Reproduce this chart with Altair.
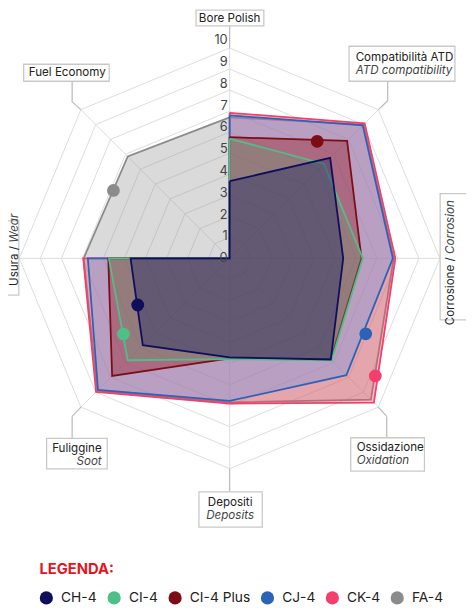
import math
import altair as alt
import pandas as pd

# ---------------- data ----------------
categories = ["Bore Polish", "Compatibilità ATD", "Corrosione", "Ossidazione",
              "Depositi", "Fuliggine", "Usura", "Fuel Economy"]
categories_en = ["", "ATD compatibility", "Corrosion", "Oxidation",
                 "Deposits", "Soot", "Wear", ""]
series = ["CH-4", "CI-4", "CI-4 Plus", "CJ-4", "CK-4", "FA-4"]

ch4 = [3.67, 6.76, 5.40, 6.80, 4.71, 5.84, 4.71, 0.0]
ci4 = [5.69, 6.35, 6.33, 6.85, 4.79, 6.85, 5.74, 0.0]
ci4_plus = [5.76, 7.90, 6.27, 6.80, 4.76, 7.90, 5.77, 0.0]
cj4 = [6.80, 8.95, 7.76, 7.85, 6.78, 8.85, 6.74, 0.0]
ck4 = [6.92, 9.08, 7.88, 9.70, 6.90, 8.98, 6.96, 0.0]
fa4 = [6.70, 9.00, 7.80, 9.50, 6.85, 8.90, 6.94, 6.85]
series_values = [ch4, ci4, ci4_plus, cj4, ck4, fa4]

marker_angle = [243.1, 234.5, 36.8, 119.0, 128.9, 300.3]
marker_value = [4.9, 6.2, 6.95, 7.4, 8.9, 6.4]

ticks = list(range(0, 11))

# ---------------- styles ----------------
colors = ["#0e0e5c", "#4fbf88", "#7c0d14", "#2d63b6", "#f23f6c", "#8b8b8b"]
fill_colors = ["#081965", "#689a72", "#96050a", "#6997ee", "#f5435a", "#959595"]
FILL_OPACITY = 0.35

PX = 21.4
CX, CY = 225.5, 249.5
N = len(categories)
FONT = "Inter"
GRID = "#dcdcdc"


def polar_k(v, k):
    a = math.radians(360.0 * k / N)
    return v * math.sin(a), v * math.cos(a)


def polar_deg(v, deg):
    a = math.radians(deg)
    return v * math.sin(a), v * math.cos(a)


xs = alt.Scale(domain=[-10, 10], range=[CX - 10 * PX, CX + 10 * PX])
ys = alt.Scale(domain=[-10, 10], range=[CY + 10 * PX, CY - 10 * PX])


def XY(xf="x", yf="y"):
    return dict(x=alt.X(f"{xf}:Q", scale=xs, axis=None),
                y=alt.Y(f"{yf}:Q", scale=ys, axis=None))


layers = []

# grid rings
ring_rows = []
for lev in range(1, 11):
    for k in range(N + 1):
        x, y = polar_k(lev, k % N)
        ring_rows.append(dict(level=lev, k=k, x=x, y=y))
layers.append(alt.Chart(pd.DataFrame(ring_rows)).mark_line(
    stroke=GRID, strokeWidth=1).encode(**XY(), detail="level:N", order="k:Q"))

# spokes
spoke_rows = []
for k in range(N):
    x2, y2 = polar_k(10, k)
    spoke_rows.append(dict(x=0.0, y=0.0, x2=x2, y2=y2))
layers.append(alt.Chart(pd.DataFrame(spoke_rows)).mark_rule(
    stroke=GRID, strokeWidth=1).encode(**XY(), x2="x2:Q", y2="y2:Q"))

# polygons (bottom to top: FA-4 ... CH-4)
for i in reversed(range(len(series))):
    rows = []
    for k in range(N + 1):
        x, y = polar_k(series_values[i][k % N], k % N)
        rows.append(dict(series=series[i], k=k, x=x, y=y))
    layers.append(alt.Chart(pd.DataFrame(rows)).mark_line(
        stroke=colors[i], fill=fill_colors[i], fillOpacity=FILL_OPACITY, strokeWidth=1.8,
        strokeJoin="miter").encode(**XY(), order="k:Q"))

# markers + legend
dot_rows = []
for i, s in enumerate(series):
    x, y = polar_deg(marker_value[i], marker_angle[i])
    dot_rows.append(dict(series=s, x=x, y=y))
layers.append(alt.Chart(pd.DataFrame(dot_rows)).mark_point(
    filled=True, size=170, opacity=1).encode(
    **XY(),
    color=alt.Color("series:N", scale=alt.Scale(domain=series, range=colors),
                    legend=alt.Legend(
                        title="LEGENDA:", orient="none", legendX=32, legendY=559,
                        direction="horizontal", columns=6, padding=0,
                        titleColor="#e3161e", titleFontSize=15, titleFontWeight="bold",
                        titleFont=FONT, titlePadding=14,
                        labelFont=FONT, labelFontSize=14, labelColor="#222222",
                        symbolType="circle", symbolSize=180, symbolStrokeWidth=0,
                        symbolOpacity=1, labelOffset=8, columnPadding=10))))

# tick labels
tick_df = pd.DataFrame({"tick": ticks, "x": [0.0] * len(ticks)})
layers.append(alt.Chart(tick_df).mark_text(
    align="right", baseline="middle", font=FONT, fontSize=13, color="#444444",
    xOffset=-2).encode(
    x=alt.X("x:Q", scale=xs, axis=None),
    y=alt.Y("tick:Q", scale=alt.Scale(domain=[0, 10], range=[CY, CY - 10 * 22.2]), axis=None),
    text="tick:Q"))

# category label boxes (offsets in px from the outer vertex of each axis)
layout = {
    0: dict(box=(-34.2, 34.8, -38.5, -22.5), text=(0, -30.5, "center"), conn=[(0, -22.5, 0, 0)]),
    1: dict(box=(-29.8, 77.9, -64.5, -28.9), text=(-23.1, -53.5, "left"),
            conn=[(0, 0, 9.5, -9), (9.5, -9, 9.5, -28.9)]),
    2: dict(box=(0.2, 40, -65.8, 62.5), rot=(10, -1), conn=[]),
    3: dict(box=(-28.1, 46.9, 31.2, 65.2), text=(-22.1, 40.5, "left"),
            conn=[(0, 0, 8.5, 9.5), (8.5, 9.5, 8.5, 31.2)]),
    4: dict(box=(-31.2, 33.2, 23.5, 59.5), text=(0.5, 33.5, "center"), conn=[(0, 0, 0, 23.5)]),
    5: dict(box=(-34.9, 26.8, 31.9, 62.9), text=(21.1, 41.2, "right"),
            conn=[(0, 0, -8.9, 9.5), (-8.9, 9.5, -8.9, 31.9)]),
    6: dict(box=(-30, -0.5, -38.2, 37.5), rot=(-5.5, -12.5), conn=[]),
    7: dict(box=(-58.2, 28.8, -46.2, -28.9), text=(-13.9, -37.9, "center"),
            conn=[(0, 0, -8.9, -7.9), (-8.9, -7.9, -8.9, -28.9)]),
}

for k in range(N):
    ax, ay = polar_k(10, k)
    adf = pd.DataFrame({"x": [ax], "y": [ay], "main": [categories[k]], "sub": [categories_en[k]],
                        "mainrot": [categories[k] + " /"]})
    base = alt.Chart(adf)
    L = layout[k]
    for (x1, y1, x2, y2) in L["conn"]:
        layers.append(base.mark_rule(stroke="#bdbdbd", strokeWidth=1.3,
                                     xOffset=x1, x2Offset=x2, yOffset=y1, y2Offset=y2)
                      .encode(**XY(), x2="x:Q", y2="y:Q"))
    bx1, bx2, by1, by2 = L["box"]
    layers.append(base.mark_rect(fill="white", stroke="#c9c9c9", strokeWidth=1.3,
                                 xOffset=bx1, x2Offset=bx2, yOffset=by1, y2Offset=by2)
                  .encode(**XY(), x2="x:Q", y2="y:Q"))
    if "text" in L:
        tx, ty, al = L["text"]
        layers.append(base.mark_text(font=FONT, fontSize=11.8, color="#222222", align=al,
                                     baseline="middle", xOffset=tx, yOffset=ty)
                      .encode(**XY(), text="main:N"))
        if categories_en[k]:
            layers.append(base.mark_text(font=FONT, fontSize=11.8, fontStyle="italic",
                                         color="#444444", align=al, baseline="middle",
                                         xOffset=tx, yOffset=ty + 13.5)
                          .encode(**XY(), text="sub:N"))
    else:
        rx, ry = L["rot"]
        layers.append(base.mark_text(font=FONT, fontSize=11.8, color="#222222", align="right",
                                     baseline="middle", angle=270, xOffset=rx, yOffset=ry)
                      .encode(**XY(), text="mainrot:N"))
        layers.append(base.mark_text(font=FONT, fontSize=11.8, fontStyle="italic", color="#444444",
                                     align="left", baseline="middle", angle=270,
                                     xOffset=rx, yOffset=ry - 3.5)
                      .encode(**XY(), text="sub:N"))

chart = alt.layer(*layers).resolve_scale(y="independent").properties(
    width=466, height=600,
    autosize=alt.AutoSizeParams(type="none"),
    padding=0,
).configure_view(stroke=None)

chart.save("out.html", embed_options={"renderer": "svg", "actions": False})
